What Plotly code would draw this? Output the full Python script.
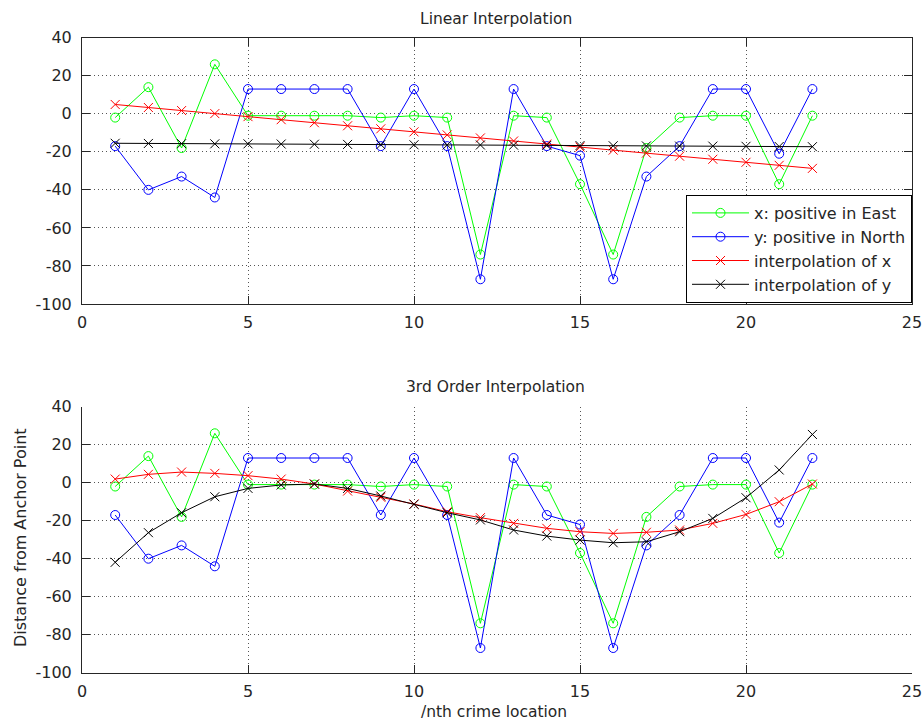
import plotly.graph_objects as go

loc = list(range(1, 23))
x_east = [-2, 14, -18, 26, -1, -1, -1, -1, -2, -1, -2, -74, -1, -2, -37, -74, -18, -2, -1, -1, -37, -1]
y_north = [-17, -40, -33, -44, 13, 13, 13, 13, -17, 13, -17, -87, 13, -17, -22, -87, -33, -17, 13, 13, -21, 13]
lin_x = [4.9, 3.3, 1.7, 0.1, -1.5, -3.1, -4.7, -6.3, -7.9, -9.5, -11.1, -12.7, -14.3, -15.9, -17.5, -19.1, -20.7, -22.3, -23.9, -25.5, -27.1, -28.7]
lin_y = [-15.5, -15.6, -15.7, -15.8, -15.8, -15.9, -16.0, -16.1, -16.2, -16.3, -16.4, -16.4, -16.5, -16.6, -16.7, -16.8, -16.9, -17.0, -17.0, -17.1, -17.2, -17.3]
cub_x = [1.9, 4.4, 5.6, 4.9, 3.7, 1.9, -0.7, -4.4, -7.7, -11.2, -15.3, -18.4, -21.4, -24.0, -25.8, -26.7, -26.1, -24.9, -21.4, -16.7, -10.0, -0.7]
cub_y = [-41.9, -26.3, -15.8, -7.4, -3.0, -1.2, -0.7, -3.0, -7.0, -11.4, -15.8, -19.6, -24.9, -28.1, -30.2, -31.6, -31.1, -25.8, -18.8, -7.9, 6.7, 25.4]

x_ticks = [0, 5, 10, 15, 20, 25]
y_ticks = [-100, -80, -60, -40, -20, 0, 20, 40]
names = ["x: positive in East", "y: positive in North", "interpolation of x", "interpolation of y"]

W, H = 923, 722
FONT = "DejaVu Sans"
TXT = "#262626"

fig = go.Figure()

def add(series, color, sym, name, xa, ya, show):
    fig.add_trace(go.Scatter(
        x=loc, y=series, mode="lines+markers", name=name,
        line=dict(color=color, width=1),
        marker=dict(symbol=sym, size=9, color=color, line=dict(color=color, width=1)),
        xaxis=xa, yaxis=ya, showlegend=show, legendgroup=name))

top = [(x_east, "#00ff00", "circle-open"), (y_north, "#0000ff", "circle-open"),
       (lin_x, "#ff0000", "x-thin-open"), (lin_y, "#000000", "x-thin-open")]
bot = [(x_east, "#00ff00", "circle-open"), (y_north, "#0000ff", "circle-open"),
       (cub_x, "#ff0000", "x-thin-open"), (cub_y, "#000000", "x-thin-open")]
for (s, c, m), n in zip(top, names):
    add(s, c, m, n, "x", "y", True)
for (s, c, m), n in zip(bot, names):
    add(s, c, m, n, "x2", "y2", False)

xd = [82 / W, 912 / W]
yd1 = [1 - 304 / H, 1 - 37.7 / H]
yd2 = [1 - 672.7 / H, 1 - 406.7 / H]

y_text = [str(v) for v in y_ticks]

axcommon = dict(
    showgrid=True, gridcolor="#555555", griddash="1px,3px", gridwidth=1,
    showline=True, linecolor="#262626", linewidth=1,
    ticks="inside", ticklen=8, tickcolor="#262626", tickwidth=1,
    tickfont=dict(family=FONT, size=16, color=TXT),
    zeroline=False, automargin=False, fixedrange=True,
)

fig.update_layout(
    width=W, height=H, margin=dict(l=0, r=0, t=0, b=0),
    paper_bgcolor="white", plot_bgcolor="white",
    font=dict(family=FONT, size=16, color=TXT),
    xaxis=dict(domain=xd, range=[0, 25], tickvals=x_ticks, mirror="ticks",
               anchor="y", ticklabelstandoff=4, **axcommon),
    yaxis=dict(domain=yd1, range=[-100, 40], tickvals=y_ticks, ticktext=y_text,
               mirror="ticks", anchor="x", ticklabelstandoff=6, **axcommon),
    xaxis2=dict(domain=xd, range=[0, 25], tickvals=x_ticks, mirror=False,
                anchor="y2", ticklabelstandoff=4, **axcommon),
    yaxis2=dict(domain=yd2, range=[-100, 40], tickvals=y_ticks, ticktext=y_text,
                mirror=False, anchor="x2", ticklabelstandoff=6, **axcommon),
    legend=dict(x=912 / W, y=1 - 303 / H, xanchor="right", yanchor="bottom",
                bgcolor="white", bordercolor="#000000", borderwidth=1,
                font=dict(family=FONT, size=16, color=TXT),
                tracegroupgap=0, itemwidth=57),
    showlegend=True,
)

def ann(text, x, y, size, angle=0):
    fig.add_annotation(text=text, x=x / W, y=1 - y / H, xref="paper", yref="paper",
                       showarrow=False, xanchor="center", yanchor="middle",
                       textangle=angle, font=dict(family=FONT, size=size, color=TXT))

ann("Linear Interpolation", 496, 18.5, 15.5)
ann("3rd Order Interpolation", 496, 386.5, 15.5)
ann("/nth crime location", 494, 711.5, 15.5)
ann("Distance from Anchor Point", 20, 538, 16, -90)

fig.write_html("out.html")
